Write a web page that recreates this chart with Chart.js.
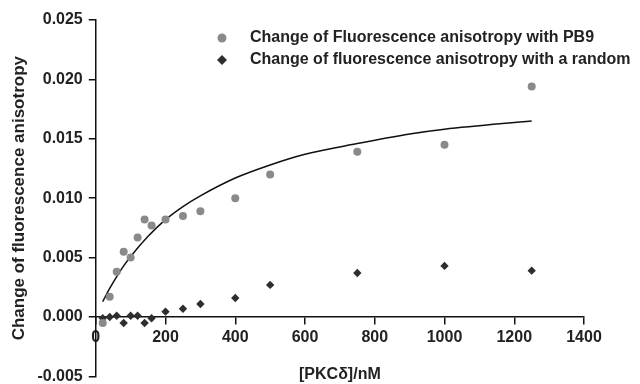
<!DOCTYPE html>
<html>
<head>
<meta charset="utf-8">
<script src="https://cdn.jsdelivr.net/npm/chart.js@4"></script>
<style>
  html, body { margin: 0; padding: 0; background: #fff; overflow: hidden; }
  #wrap { width: 640px; height: 392px; }
</style>
</head>
<body>
<div id="wrap"><canvas id="fluoChart"></canvas></div>
<script>
// concentrations (nM)
const pb9X = [20, 40, 60, 80, 100, 120, 140, 160, 200, 250, 300, 400, 500, 750, 1000, 1250]
const pb9Y = [-0.0005, 0.0017, 0.0038, 0.0055, 0.0050, 0.0067, 0.0082, 0.0077, 0.0082, 0.0085, 0.0089, 0.0100, 0.0120, 0.0139, 0.0145, 0.0194]

const randX = [20, 40, 60, 80, 100, 120, 140, 160, 200, 250, 300, 400, 500, 750, 1000, 1250]
const randY = [-0.0001, 0.0000, 0.0001, -0.0005, 0.0001, 0.0001, -0.0005, -0.0001, 0.00045, 0.0007, 0.0011, 0.0016, 0.0027, 0.0037, 0.0043, 0.0039]

// fitted curve
const fitX = [20, 40, 60, 80, 100, 150, 200, 250, 300, 400, 500, 600, 750, 900, 1000, 1250]
const fitY = [0.0013, 0.0024, 0.0034, 0.0043, 0.0051, 0.0068, 0.0082, 0.0093, 0.0102, 0.0117, 0.0128, 0.0137, 0.0146, 0.0154, 0.0158, 0.0165]

const yTicks = [-0.005, 0, 0.005, 0.010, 0.015, 0.020, 0.025]
const xTicks = [0, 200, 400, 600, 800, 1000, 1200, 1400]

const legendLabels = ['Change of Fluorescence anisotropy with PB9', 'Change of fluorescence anisotropy with a random']

const pts = (xs, ys) => xs.map((x, i) => ({ x: x, y: ys[i] }))

const font = { family: 'Liberation Sans, Arial, sans-serif', size: 16, weight: 'bold' }

// legend drawn inside the plot area
const innerLegend = {
    id: 'innerLegend',
    afterDraw(chart) {
        const ctx = chart.ctx
        const sets = chart.data.datasets.filter(d => d.inLegend)
        ctx.save()
        ctx.font = 'bold 16px Liberation Sans, Arial, sans-serif'
        ctx.textBaseline = 'middle'
        sets.forEach((ds, i) => {
            const y = 38 + i * 22
            ctx.fillStyle = ds.backgroundColor
            ctx.beginPath()
            if (ds.pointStyle === 'circle') {
                ctx.arc(222, y, 4.5, 0, Math.PI * 2)
            } else {
                ctx.moveTo(222, y - 5); ctx.lineTo(227, y); ctx.lineTo(222, y + 5); ctx.lineTo(217, y)
            }
            ctx.fill()
            ctx.fillStyle = '#222'
            ctx.fillText(ds.label, 250, y)
        })
        ctx.restore()
    }
}

new Chart(document.getElementById('fluoChart').getContext('2d'), {
    type: 'scatter',
    data: {
        datasets: [{
            label: legendLabels[0],
            inLegend: true,
            data: pts(pb9X, pb9Y),
            pointStyle: 'circle',
            pointRadius: 4,
            backgroundColor: '#8a8a8a',
            borderWidth: 0
        }, {
            label: legendLabels[1],
            inLegend: true,
            data: pts(randX, randY),
            pointStyle: 'rectRot',
            pointRadius: 4.2,
            backgroundColor: '#2e2e2e',
            borderWidth: 0
        }, {
            label: 'fit',
            type: 'line',
            data: pts(fitX, fitY),
            showLine: true,
            borderColor: '#111',
            borderWidth: 1.5,
            pointRadius: 0,
            cubicInterpolationMode: 'monotone',
            fill: false
        }]
    },
    options: {
        responsive: true,
        maintainAspectRatio: false,
        animation: false,
        layout: { padding: { top: 20, right: 56, left: 5, bottom: 0 } },
        plugins: { legend: { display: false }, tooltip: { enabled: false } },
        scales: {
            x: {
                type: 'linear',
                position: { y: 0 },
                min: 0, max: 1400,
                afterBuildTicks: s => { s.ticks = xTicks.map(v => ({ value: v })) },
                grid: { drawOnChartArea: false, tickLength: 7, color: '#111', lineWidth: 1.5 },
                border: { color: '#111', width: 1.5 },
                ticks: { color: '#222', font: font, padding: 4, callback: v => String(v) },
                title: { display: true, text: '[PKCδ]/nM', color: '#222', font: font, padding: { top: 14 } }
            },
            y: {
                min: -0.005, max: 0.025,
                afterBuildTicks: s => { s.ticks = yTicks.map(v => ({ value: v })) },
                grid: { drawOnChartArea: false, tickLength: 7, color: '#111', lineWidth: 1.5 },
                border: { color: '#111', width: 1.5 },
                ticks: { color: '#222', font: font, padding: 6, callback: v => v.toFixed(3) },
                title: { display: true, text: 'Change of fluorescence anisotropy', color: '#222', font: { ...font, size: 17 }, padding: { bottom: 2 } }
            }
        }
    },
    plugins: [innerLegend]
})
</script>
</body>
</html>
